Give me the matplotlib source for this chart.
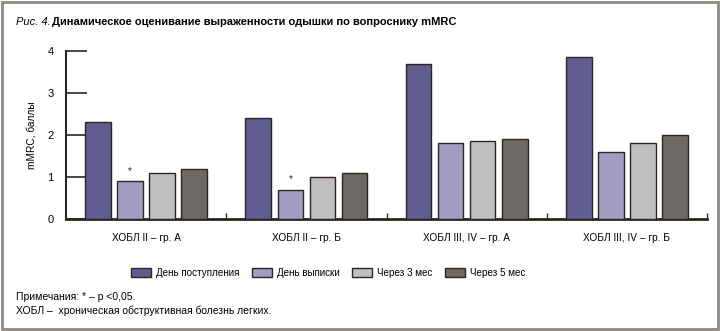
import matplotlib
matplotlib.use("Agg")
import matplotlib.pyplot as plt
from matplotlib.patches import Rectangle, Patch
import numpy as np

categories = ["ХОБЛ II – гр. А", "ХОБЛ II – гр. Б", "ХОБЛ III, IV – гр. А", "ХОБЛ III, IV – гр. Б"]
series_names = ["День поступления", "День выписки", "Через 3 мес", "Через 5 мес"]
admission = [2.3, 2.4, 3.7, 3.85]
discharge = [0.9, 0.7, 1.8, 1.6]
month3 = [1.1, 1.0, 1.85, 1.8]
month5 = [1.2, 1.1, 1.9, 2.0]
significant = [True, True, False, False]
yticks = [0, 1, 2, 3, 4]

colors = ["#615c92", "#a29cc3", "#c0bec0", "#6d6965"]
edge = "#2b2620"

plt.rcParams['font.family'] = ['Liberation Sans', 'DejaVu Sans']

fig = plt.figure(figsize=(7.2, 3.31), dpi=100)
ax = fig.add_axes([66/720, 1-219/331, (707-66)/720, (219-51)/331])

x = np.arange(len(categories))
w = 0.16
step = 0.2
series = [admission, discharge, month3, month5]
for i, (vals, c) in enumerate(zip(series, colors)):
    ax.bar(x + (i-1.5)*step, vals, width=w, color=c, edgecolor=edge, linewidth=1.0, zorder=3)

for xi, sig, v in zip(x, significant, discharge):
    if sig:
        ax.text(xi - 0.5*step, v + 0.12, "*", ha="center", va="bottom", fontsize=7, color="#222")

ax.set_xlim(-0.5, len(categories)-0.5)
ax.set_ylim(0, 4)
ax.set_yticks(yticks)
ax.set_yticklabels([str(t) for t in yticks], fontsize=8)
ax.tick_params(axis='y', direction='in', length=15, width=1.2, color=edge, pad=9)
ax.set_xticks(x)
ax.set_xticklabels(categories, fontsize=7.3)
ax.tick_params(axis='x', length=0, pad=10)
ax.set_xticks(np.arange(len(categories)) + 0.5, minor=True)
ax.tick_params(axis='x', which='minor', direction='in', length=4, width=1, color=edge)
for s in ['top', 'right']:
    ax.spines[s].set_visible(False)
ax.spines['left'].set_color(edge)
ax.spines['bottom'].set_color(edge)
ax.spines['left'].set_linewidth(1.5)
ax.spines['bottom'].set_linewidth(2)
ax.set_ylabel("mMRC, баллы", fontsize=7.3, labelpad=8)

fig.text(16/720, 1-22/331, "Рис. 4.", fontsize=8, style='italic', va='center', ha='left')
fig.text(52/720, 1-22/331, "Динамическое оценивание выраженности одышки по вопроснику mMRC",
         fontsize=8, weight='bold', va='center', ha='left')

handles = [Patch(facecolor=c, edgecolor=edge, linewidth=1) for c in colors]
fig.legend(handles, series_names, loc='center', bbox_to_anchor=(0.456, 1-273/331), ncol=4,
           frameon=False, fontsize=7.1, handlelength=2.0, handleheight=1.0, columnspacing=1.3,
           handletextpad=0.5)

fig.text(16/720, 1-297/331, "Примечания: * – p <0,05.", fontsize=7.5, va='center', ha='left')
fig.text(16/720, 1-311/331, "ХОБЛ –  хроническая обструктивная болезнь легких.", fontsize=7.5, va='center', ha='left')

fig.patches.append(Rectangle((0.003, 0.005), 0.994, 0.99, transform=fig.transFigure,
                             fill=False, edgecolor="#8d8984", linewidth=2))

fig.savefig("out.png", dpi=100)
